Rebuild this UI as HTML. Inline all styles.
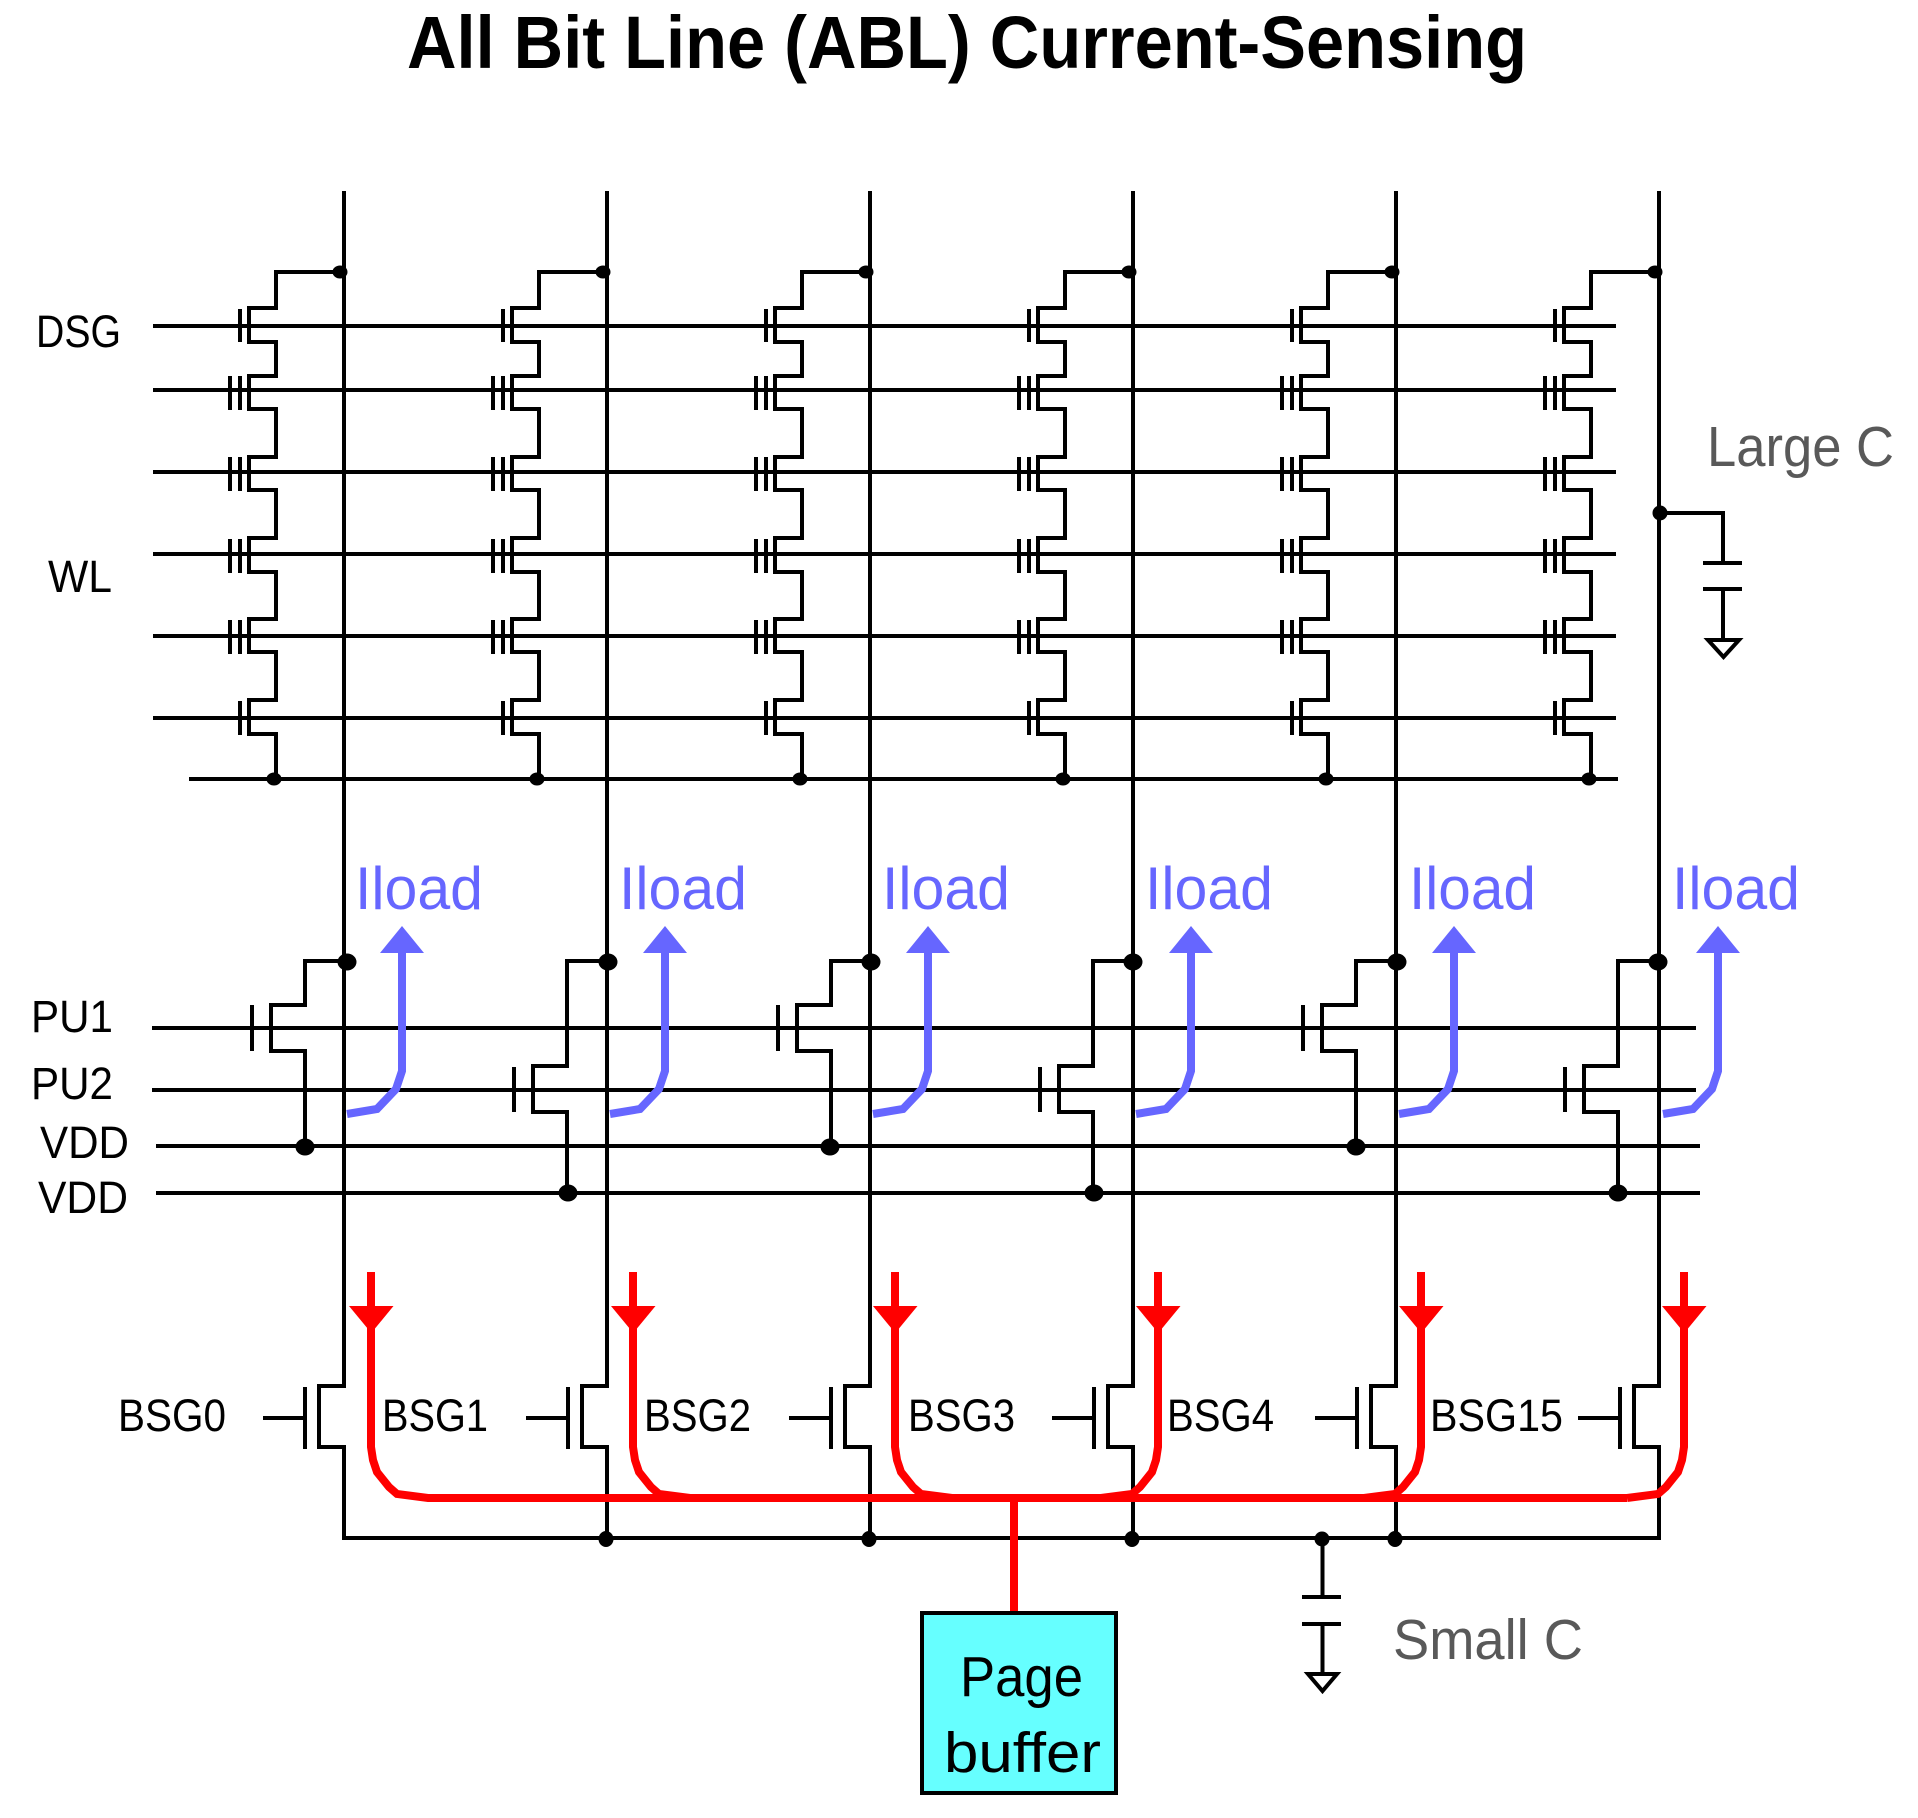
<!DOCTYPE html>
<html><head><meta charset="utf-8"><title>All Bit Line (ABL) Current-Sensing</title>
<style>html,body{margin:0;padding:0;background:#fff}svg{display:block}text{font-family:"Liberation Sans",sans-serif}</style></head>
<body>
<svg xmlns="http://www.w3.org/2000/svg" width="1918" height="1818" viewBox="0 0 1918 1818">
<defs>
<g id="cell" fill="none" stroke="#000" stroke-width="4">
<path d="M340 272H276V308H249V342H276V376H249V409H276V457H249V490H276V538H249V572H276V619H249V652H276V700H249V734H276V779" stroke-linejoin="miter"/>
<path d="M240 309V342M240 376V410M230 376V410M240 457V491M230 457V491M240 539V573M230 539V573M240 620V654M230 620V654M240 701V735"/>
<ellipse cx="340" cy="272" rx="5.5" ry="4.5" fill="#000"/>
<ellipse cx="274" cy="779" rx="5.5" ry="4.5" fill="#000"/>
</g>
<g id="bsg" fill="none" stroke="#000" stroke-width="4">
<path d="M344 191V1386H319V1447H344V1538"/>
<path d="M263 1418H305M305 1387V1449"/>
</g>
<g id="blue">
<path d="M401 945V1071L395 1089L376 1109L346 1114" fill="none" stroke="#6666ff" stroke-width="8"/>
<polygon points="401,926 423,953 379,953" fill="#6666ff"/>
</g>
<polygon id="rhead" points="349,1306 393.5,1306 371.3,1333" fill="#f00"/>
</defs>

<rect width="1918" height="1818" fill="#fff"/>

<text x="407" y="68" font-size="74" font-weight="700" textLength="1120" lengthAdjust="spacingAndGlyphs">All Bit Line (ABL) Current-Sensing</text>

<!-- horizontal wires -->
<g stroke="#000" stroke-width="4" fill="none">
<path d="M153 326H1616M153 390H1616M153 472H1616M153 554H1616M153 636H1616M153 718H1616M189 779H1618"/>
<path d="M152 1028H1696M152 1090H1696M156 1146H1700M156 1193H1700"/>
<path d="M342 1538H1661"/>
</g>

<!-- NAND strings -->
<use href="#cell"/>
<use href="#cell" transform="translate(263 0)"/>
<use href="#cell" transform="translate(526 0)"/>
<use href="#cell" transform="translate(789 0)"/>
<use href="#cell" transform="translate(1052 0)"/>
<use href="#cell" transform="translate(1315 0)"/>

<!-- Bit lines + BSG transistors -->
<use href="#bsg"/>
<use href="#bsg" transform="translate(263 0)"/>
<use href="#bsg" transform="translate(526 0)"/>
<use href="#bsg" transform="translate(789 0)"/>
<use href="#bsg" transform="translate(1052 0)"/>
<use href="#bsg" transform="translate(1315 0)"/>

<!-- PU transistors -->
<g fill="none" stroke="#000" stroke-width="4">
<path d="M346 961H305V1005H271V1051H305V1146M252 1005V1051"/>
<path d="M608 961H567V1066H533V1112H567V1193M514 1067V1112"/>
<path d="M871 961H831V1005H797V1051H831V1146M778 1005V1051"/>
<path d="M1133 961H1093V1066H1059V1112H1093V1193M1040 1067V1112"/>
<path d="M1397 961H1356V1005H1322V1051H1356V1146M1303 1005V1051"/>
<path d="M1658 961H1618V1066H1584V1112H1618V1193M1565 1067V1112"/>
</g>
<g fill="#000">
<ellipse cx="347" cy="962" rx="9.5" ry="8.5"/><ellipse cx="608" cy="962" rx="9.5" ry="8.5"/><ellipse cx="871" cy="962" rx="9.5" ry="8.5"/><ellipse cx="1133" cy="962" rx="9.5" ry="8.5"/><ellipse cx="1397" cy="962" rx="9.5" ry="8.5"/><ellipse cx="1658" cy="962" rx="9.5" ry="8.5"/>
<ellipse cx="305" cy="1147" rx="9.5" ry="8.5"/><ellipse cx="568" cy="1193" rx="9.5" ry="8.5"/><ellipse cx="830" cy="1147" rx="9.5" ry="8.5"/><ellipse cx="1094" cy="1193" rx="9.5" ry="8.5"/><ellipse cx="1356" cy="1147" rx="9.5" ry="8.5"/><ellipse cx="1618" cy="1193" rx="9.5" ry="8.5"/>
<ellipse cx="606" cy="1539" rx="7.5" ry="8"/><ellipse cx="869" cy="1539" rx="7.5" ry="8"/><ellipse cx="1132" cy="1539" rx="7.5" ry="8"/><ellipse cx="1395" cy="1539" rx="7.5" ry="8"/>
<circle cx="1322" cy="1539" r="7.5"/>
<circle cx="1660" cy="513" r="7.5"/>
</g>

<!-- Capacitors -->
<g fill="none" stroke="#000" stroke-width="4">
<path d="M1660 513H1723V563M1703 563H1742M1703 589H1742M1723 589V640"/>
<polygon points="1708,640 1739,640 1723.5,657"/>
<path d="M1322.5 1539V1597M1302 1597H1341M1302 1624H1341M1322.5 1624V1674"/>
<polygon points="1308,1674 1337,1674 1322.5,1691"/>
</g>

<!-- Blue arrows -->
<use href="#blue" transform="translate(1 0)"/>
<use href="#blue" transform="translate(264 0)"/>
<use href="#blue" transform="translate(527 0)"/>
<use href="#blue" transform="translate(790 0)"/>
<use href="#blue" transform="translate(1053 0)"/>
<use href="#blue" transform="translate(1317 0)"/>

<g fill="#6666ff" font-size="60">
<text x="355" y="909" textLength="128" lengthAdjust="spacingAndGlyphs">Iload</text>
<text x="619" y="909" textLength="128" lengthAdjust="spacingAndGlyphs">Iload</text>
<text x="882" y="909" textLength="128" lengthAdjust="spacingAndGlyphs">Iload</text>
<text x="1145" y="909" textLength="128" lengthAdjust="spacingAndGlyphs">Iload</text>
<text x="1409" y="909" textLength="127" lengthAdjust="spacingAndGlyphs">Iload</text>
<text x="1672" y="909" textLength="128" lengthAdjust="spacingAndGlyphs">Iload</text>
</g>

<!-- Red bus -->
<g fill="none" stroke="#f00" stroke-width="8">
<path d="M371 1272V1447L373 1460L377 1472L389 1487L397 1494L428 1498H1627"/>
<path d="M633 1272V1447L635 1460L639 1472L651 1487L659 1494L690 1498"/>
<path d="M895 1272V1447L897 1460L901 1472L913 1487L921 1494L952 1498"/>
<path d="M1158 1272V1447L1156 1460L1152 1472L1140 1487L1132 1494L1101 1498"/>
<path d="M1421 1272V1447L1419 1460L1415 1472L1403 1487L1395 1494L1364 1498"/>
<path d="M1684 1272V1447L1682 1460L1678 1472L1666 1487L1658 1494L1627 1498"/>
<path d="M1014 1498V1613"/>
</g>
<use href="#rhead"/>
<use href="#rhead" transform="translate(262 0)"/>
<use href="#rhead" transform="translate(524 0)"/>
<use href="#rhead" transform="translate(787 0)"/>
<use href="#rhead" transform="translate(1050 0)"/>
<use href="#rhead" transform="translate(1313 0)"/>

<!-- Page buffer -->
<rect x="922" y="1613" width="194" height="180" fill="#66ffff" stroke="#000" stroke-width="4"/>
<text x="960" y="1696" font-size="57" textLength="123" lengthAdjust="spacingAndGlyphs">Page</text>
<text x="944" y="1772" font-size="57" textLength="157" lengthAdjust="spacingAndGlyphs">buffer</text>

<!-- Labels -->
<g fill="#000" font-size="45">
<text x="36" y="347" textLength="85" lengthAdjust="spacingAndGlyphs">DSG</text>
<text x="48" y="592" textLength="64" lengthAdjust="spacingAndGlyphs">WL</text>
<text x="31" y="1032" textLength="82" lengthAdjust="spacingAndGlyphs">PU1</text>
<text x="31" y="1099" textLength="82" lengthAdjust="spacingAndGlyphs">PU2</text>
<text x="40" y="1158" textLength="89" lengthAdjust="spacingAndGlyphs">VDD</text>
<text x="38" y="1213" textLength="90" lengthAdjust="spacingAndGlyphs">VDD</text>
<text x="118" y="1431" textLength="108" lengthAdjust="spacingAndGlyphs">BSG0</text>
<text x="382" y="1431" textLength="106" lengthAdjust="spacingAndGlyphs">BSG1</text>
<text x="644" y="1431" textLength="107" lengthAdjust="spacingAndGlyphs">BSG2</text>
<text x="908" y="1431" textLength="107" lengthAdjust="spacingAndGlyphs">BSG3</text>
<text x="1167" y="1431" textLength="107" lengthAdjust="spacingAndGlyphs">BSG4</text>
<text x="1430" y="1431" textLength="133" lengthAdjust="spacingAndGlyphs">BSG15</text>
</g>
<g fill="#595959" font-size="57">
<text x="1707" y="466" textLength="187" lengthAdjust="spacingAndGlyphs">Large C</text>
<text x="1393" y="1659" textLength="190" lengthAdjust="spacingAndGlyphs">Small C</text>
</g>
</svg>
</body></html>
